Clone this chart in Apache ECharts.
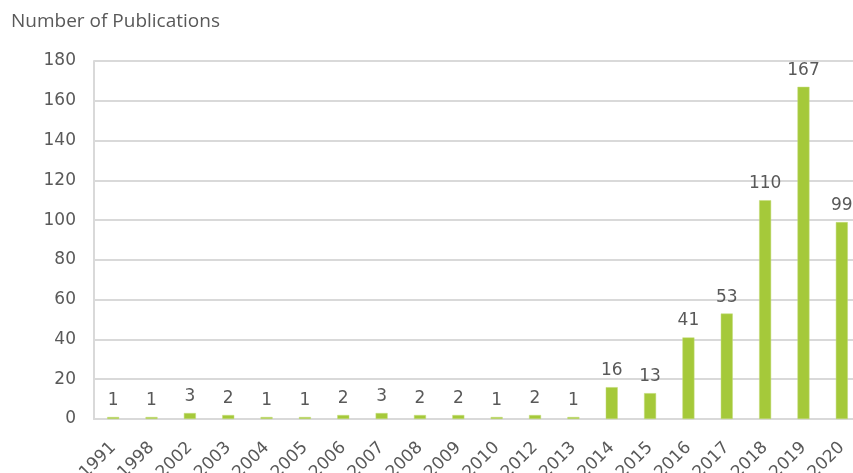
<!DOCTYPE html>
<html>
<head>
<meta charset="utf-8">
<script src="https://cdn.jsdelivr.net/npm/echarts@6/dist/echarts.min.js"></script>
<style>
  html, body { margin: 0; padding: 0; background: #fff; }
  #chart { width: 853px; height: 473px; }
</style>
</head>
<body>
<div id="chart"></div>
<script>
// Publications per year
const years = ['1991', '1998', '2002', '2003', '2004', '2005', '2006', '2007', '2008', '2009',
               '2010', '2012', '2013', '2014', '2015', '2016', '2017', '2018', '2019', '2020'];
const publications = [1, 1, 3, 2, 1, 1, 2, 3, 2, 2, 1, 2, 1, 16, 13, 41, 53, 110, 167, 99];
const yTitle = 'Number of Publications';

const textColor = '#595959';
const gridColor = '#d9d9d9';
const fontMain = 'DejaVu Sans, Verdana, sans-serif';

const chart = echarts.init(document.getElementById('chart'), null, { renderer: 'canvas' });
chart.setOption({
  animation: false,
  backgroundColor: '#ffffff',
  title: {
    text: yTitle,
    left: 6,
    top: 7,
    textStyle: { color: textColor, fontSize: 19, fontWeight: 'normal', fontFamily: 'Open Sans, sans-serif' }
  },
  // the plot runs slightly past the right edge, so labels must not push it back in
  grid: { left: 94, right: -8, top: 61, bottom: 54, containLabel: false, outerBoundsMode: 'none' },
  xAxis: {
    type: 'category',
    data: years,
    axisLine: { show: true, lineStyle: { color: gridColor, width: 2 } },
    axisTick: { show: false },
    axisLabel: {
      rotate: 45,
      interval: 0,
      margin: 26,
      color: textColor,
      fontSize: 17,
      fontFamily: fontMain
    }
  },
  yAxis: {
    type: 'value',
    min: 0,
    max: 180,
    interval: 20,
    axisLine: { show: true, lineStyle: { color: gridColor, width: 2 } },
    axisTick: { show: false },
    splitLine: { show: true, lineStyle: { color: gridColor, width: 2 } },
    axisLabel: { color: textColor, fontSize: 17, fontFamily: fontMain, margin: 18 }
  },
  series: [{
    type: 'bar',
    data: publications,
    barWidth: 12,
    itemStyle: { color: '#a5c93a', borderColor: '#c4dd7a', borderWidth: 0.5 },
    label: {
      show: true,
      position: 'top',
      distance: 8,
      color: textColor,
      fontSize: 17,
      fontFamily: fontMain
    }
  }]
});
</script>
</body>
</html>
